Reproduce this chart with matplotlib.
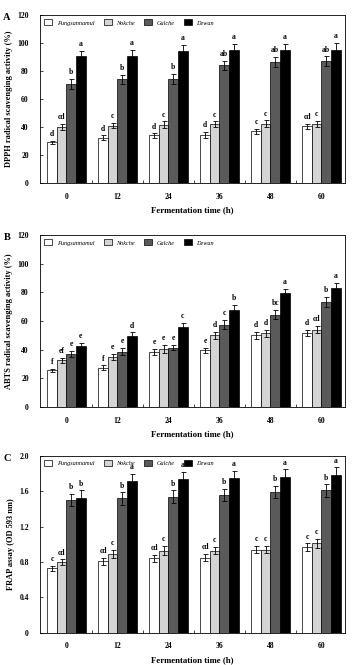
import numpy as np
import matplotlib.pyplot as plt
from matplotlib.ticker import FuncFormatter

plt.rcParams['font.family'] = ['Liberation Serif', 'DejaVu Serif']
plt.rcParams['font.weight'] = 'bold'

times = ['0', '12', '24', '36', '48', '60']
samples = ['Pungsannamul', 'Nokche', 'Galche', 'Dewan']
colors = ['white', '#d4d4d4', '#5a5a5a', 'black']

# DPPH radical scavenging activity (%)
dpph = [[29, 32.5, 34, 34.5, 37, 40.5],
        [40, 41, 41.5, 42, 42.5, 42],
        [71, 74, 74.5, 84, 86.5, 87],
        [90.5, 91, 94, 95, 95, 95]]
dpph_err = [[1.2, 1.5, 1.5, 2, 1.8, 2],
            [2, 2, 2.5, 2, 2.2, 2.2],
            [3.5, 3, 3.5, 3.5, 3.5, 3.5],
            [4, 4, 4.5, 4.5, 4.5, 5]]
dpph_lab = [['d', 'd', 'd', 'd', 'c', 'cd'],
            ['cd', 'c', 'c', 'c', 'c', 'c'],
            ['b', 'b', 'b', 'ab', 'ab', 'ab'],
            ['a', 'a', 'a', 'a', 'a', 'a']]

# ABTS radical scavenging activity (%)
abts = [[25.5, 27.5, 38.5, 39.5, 50, 51.5],
        [32.5, 35, 40.5, 50, 51.5, 54],
        [37, 38.5, 41.5, 57.5, 64.5, 73.5],
        [42.5, 49.5, 56, 68, 79.5, 83]]
abts_err = [[1, 1.5, 2, 2, 2.5, 2],
            [1.5, 2, 2.5, 2.5, 2.5, 2.5],
            [2, 2.5, 1.5, 3, 3, 3.5],
            [2, 2.5, 2.5, 3, 3, 3.5]]
abts_lab = [['f', 'f', 'e', 'e', 'd', 'd'],
            ['ef', 'e', 'e', 'd', 'd', 'cd'],
            ['e', 'e', 'e', 'c', 'bc', 'b'],
            ['e', 'd', 'c', 'b', 'a', 'a']]

# FRAP assay (OD 593 nm)
frap = [[0.73, 0.81, 0.84, 0.85, 0.94, 0.97],
        [0.80, 0.89, 0.93, 0.93, 0.94, 1.01],
        [1.50, 1.52, 1.54, 1.56, 1.59, 1.61],
        [1.53, 1.72, 1.74, 1.75, 1.76, 1.78]]
frap_err = [[0.03, 0.04, 0.04, 0.04, 0.04, 0.04],
            [0.03, 0.05, 0.05, 0.04, 0.04, 0.05],
            [0.07, 0.07, 0.07, 0.07, 0.07, 0.07],
            [0.08, 0.08, 0.08, 0.08, 0.09, 0.09]]
frap_lab = [['c', 'cd', 'cd', 'cd', 'c', 'c'],
            ['cd', 'c', 'c', 'c', 'c', 'c'],
            ['b', 'b', 'b', 'b', 'b', 'b'],
            ['b', 'a', 'a', 'a', 'a', 'a']]

panels = [
    ('A', dpph, dpph_err, dpph_lab, 'DPPH radical scavenging activity (%)',
     [0, 20, 40, 60, 80, 100, 120], 120, 2.0),
    ('B', abts, abts_err, abts_lab, 'ABTS radical scavenging activity (%)',
     [0, 20, 40, 60, 80, 100, 120], 120, 2.0),
    ('C', frap, frap_err, frap_lab, 'FRAP assay (OD 593 nm)',
     [0, 0.4, 0.8, 1.2, 1.6, 2.0], 2.0, 0.03),
]

fig = plt.figure(figsize=(3.53, 6.65), dpi=100)
rects = [[0.113, 0.7248, 0.864, 0.2526],
         [0.113, 0.388, 0.864, 0.2586],
         [0.113, 0.0486, 0.864, 0.2657]]

x = np.arange(len(times))
w = 0.1875

def yfmt(v, p):
    if v == 0:
        return '0'
    return '%g' % v if v >= 10 else '%.1f' % v

for rect, (letter, vals, errs, labs, ylab, yt, ymax, pad) in zip(rects, panels):
    ax = fig.add_axes(rect)
    for i in range(4):
        pos = x + (i - 1.5) * w
        ax.bar(pos, vals[i], w, color=colors[i], edgecolor='black', linewidth=0.5,
               label=samples[i], zorder=2)
        ax.errorbar(pos, vals[i], yerr=errs[i], fmt='none', ecolor='black',
                    elinewidth=0.6, capsize=1.8, capthick=0.6, zorder=3)
        for j in range(len(times)):
            ax.text(pos[j], vals[i][j] + errs[i][j] + pad, labs[i][j],
                    ha='center', va='bottom', fontsize=5.5, fontweight='bold')
    ax.set_xlim(-0.52, 5.46)
    ax.set_ylim(0, ymax)
    ax.set_yticks(yt)
    ax.yaxis.set_major_formatter(FuncFormatter(yfmt))
    ax.set_xticks(x)
    ax.set_xticklabels(times)
    ax.set_xticks(x[:-1] + 0.5, minor=True)
    ax.tick_params(axis='x', which='major', length=0, labelsize=5.5, pad=7)
    ax.tick_params(axis='x', which='minor', direction='in', length=2, width=0.5)
    ax.tick_params(axis='y', direction='in', length=2, width=0.5, labelsize=5.5, pad=8)
    for s in ax.spines.values():
        s.set_linewidth(0.6)
    ax.set_ylabel(ylab, fontsize=6, fontweight='bold', labelpad=3)
    ax.set_xlabel('Fermentation time (h)', fontsize=6.3, fontweight='bold', labelpad=4)
    ax.text(-0.108, 0.985, letter, transform=ax.transAxes, fontsize=7.5,
            fontweight='bold', ha='center', va='center')
    ax.legend(loc='upper left', ncol=4, frameon=False,
              handlelength=1.3, handleheight=1.1, columnspacing=1.5,
              handletextpad=0.7, borderaxespad=0.3,
              prop={'style': 'italic', 'size': 4.5, 'weight': 'normal'})

plt.savefig('out.png', dpi=100)
